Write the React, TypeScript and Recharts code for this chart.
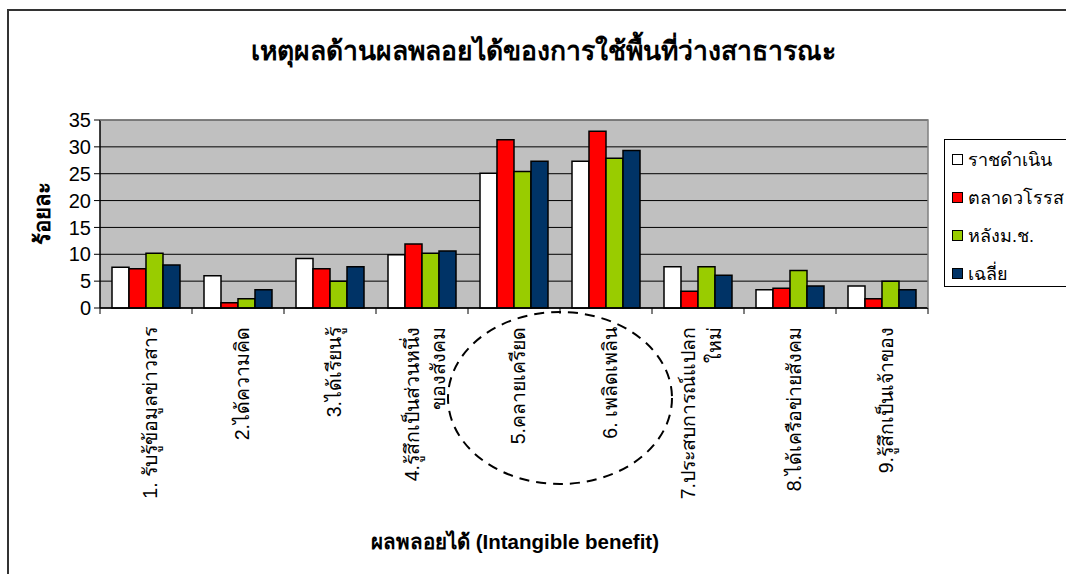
import { BarChart, Bar, XAxis, YAxis, CartesianGrid } from 'recharts';

const categories = [
  '1. รับรู้ข้อมูลข่าวสาร',
  '2.ได้ความคิด',
  '3.ได้เรียนรู้',
  '4.รู้สึกเป็นส่วนหนึ่ง\nของสังคม',
  '5.คลายเครียด',
  '6. เพลิดเพลิน',
  '7.ประสบการณ์แปลก\nใหม่',
  '8.ได้เครือข่ายสังคม',
  '9.รู้สึกเป็นเจ้าของ',
];

const seriesNames = ['ราชดำเนิน', 'ตลาดวโรรส', 'หลังม.ช.', 'เฉลี่ย'];
const seriesColors = ['#FFFFFF', '#FF0000', '#99CC00', '#003366'];

const ratchadamnoen = [7.6, 6.0, 9.2, 9.9, 25.1, 27.3, 7.7, 3.4, 4.1];
const warorot = [7.3, 1.0, 7.3, 11.9, 31.3, 32.9, 3.1, 3.7, 1.7];
const langMorChor = [10.2, 1.7, 5.0, 10.2, 25.4, 27.9, 7.7, 7.0, 5.0];
const average = [8.0, 3.4, 7.7, 10.6, 27.3, 29.3, 6.1, 4.1, 3.4];

const yTicks = [0, 5, 10, 15, 20, 25, 30, 35];

const allSeries = [ratchadamnoen, warorot, langMorChor, average];

const data = categories.map((name, i) => {
  const row: Record<string, string | number> = { name };
  seriesNames.forEach((s, k) => {
    row[s] = allSeries[k][i];
  });
  return row;
});

// layout of the picture
const W = 1066;
const H = 574;
const PLOT_LEFT = 100;
const PLOT_RIGHT = 928;
const PLOT_TOP = 120;
const PLOT_BOTTOM = 308;
const BAND = (PLOT_RIGHT - PLOT_LEFT) / categories.length;

const FONT = '"Liberation Sans", Arial, sans-serif';

// eslint-disable-next-line @typescript-eslint/no-explicit-any
function CategoryTick(props: any) {
  const { x, y, payload, index } = props;
  const lines = String(payload.value).split('\n');
  const half = BAND / 2;
  return (
    <g>
      <line x1={x - half} y1={y} x2={x - half} y2={y + 6} stroke="#000" strokeWidth={1} />
      {index === categories.length - 1 && (
        <line x1={x + half} y1={y} x2={x + half} y2={y + 6} stroke="#000" strokeWidth={1} />
      )}
      <g transform={`translate(${x},${y + 19}) rotate(-90)`}>
        <text textAnchor="end" fontSize={19.5} fill="#000" fontFamily={FONT}>
          {lines.map((l, i) => (
            <tspan key={i} x={0} y={11 - (lines.length - 1) * 14 + i * 26}>
              {l}
            </tspan>
          ))}
        </text>
      </g>
    </g>
  );
}

export default function App() {
  const ellCx = PLOT_LEFT + 5 * BAND;
  return (
    <div
      style={{
        position: 'absolute',
        left: 0,
        top: 0,
        width: W,
        height: H,
        background: '#fff',
        overflow: 'hidden',
        fontFamily: FONT,
      }}
    >
      <div
        style={{
          position: 'absolute',
          left: 7,
          top: 9,
          width: 2000,
          height: 2000,
          border: '2px solid #333',
        }}
      />
      <div
        style={{
          position: 'absolute',
          left: 0,
          top: 30,
          width: 1086,
          textAlign: 'center',
          fontSize: 26.5,
          fontWeight: 'bold',
          color: '#000',
        }}
      >
        เหตุผลด้านผลพลอยได้ของการใช้พื้นที่ว่างสาธารณะ
      </div>

      <div style={{ position: 'absolute', left: 0, top: 0 }}>
        <BarChart
          width={W}
          height={H}
          data={data}
          margin={{ top: PLOT_TOP, right: W - PLOT_RIGHT, left: PLOT_LEFT - 60, bottom: H - PLOT_BOTTOM - 230 }}
          barGap={0}
          barCategoryGap={12}
        >
          <CartesianGrid fill="#C0C0C0" fillOpacity={1} vertical={false} stroke="#000" strokeWidth={1} />
          <XAxis
            dataKey="name"
            interval={0}
            height={230}
            tickLine={false}
            tickSize={0}
            tickMargin={0}
            axisLine={{ stroke: '#000', strokeWidth: 1.5 }}
            tick={<CategoryTick />}
          />
          <YAxis
            width={60}
            domain={[0, 35]}
            ticks={yTicks}
            interval={0}
            tick={{ fill: '#000', fontSize: 20, fontFamily: FONT }}
            tickSize={6}
            tickMargin={3}
            axisLine={{ stroke: '#000', strokeWidth: 1.5 }}
            tickLine={{ stroke: '#000' }}
          />
          {seriesNames.map((s, k) => (
            <Bar
              key={s}
              dataKey={s}
              fill={seriesColors[k]}
              stroke="#000"
              strokeWidth={1.5}
              isAnimationActive={false}
            />
          ))}
        </BarChart>
      </div>

      <svg
        width={W}
        height={H}
        style={{ position: 'absolute', left: 0, top: 0, pointerEvents: 'none' }}
      >
        <path
          d={`M${PLOT_LEFT},${PLOT_TOP} H${PLOT_RIGHT} V${PLOT_BOTTOM}`}
          fill="none"
          stroke="#808080"
          strokeWidth={1.5}
        />
        <text
          transform="translate(50,213) rotate(-90)"
          textAnchor="middle"
          fontSize={22}
          fontWeight="bold"
          fontFamily={FONT}
          fill="#000"
        >
          ร้อยละ
        </text>
        <ellipse
          cx={ellCx}
          cy={398}
          rx={112}
          ry={86}
          fill="none"
          stroke="#000"
          strokeWidth={2}
          strokeDasharray="10 7"
        />
        <text
          x={515}
          y={549}
          textAnchor="middle"
          fontSize={20.5}
          fontWeight="bold"
          fontFamily={FONT}
          fill="#000"
        >
          ผลพลอยได้ (Intangible benefit)
        </text>
      </svg>

      <div
        style={{
          position: 'absolute',
          left: 944,
          top: 139,
          width: 160,
          height: 148,
          border: '1.5px solid #000',
          background: '#fff',
          boxSizing: 'border-box',
        }}
      >
        {seriesNames.map((s, k) => (
          <div
            key={s}
            style={{
              position: 'absolute',
              left: 7,
              top: 7 + k * 38,
              height: 24,
              display: 'flex',
              alignItems: 'center',
              fontSize: 18,
              whiteSpace: 'nowrap',
            }}
          >
            <span
              style={{
                display: 'inline-block',
                width: 9,
                height: 9,
                border: '1.5px solid #000',
                background: seriesColors[k],
                marginRight: 5,
              }}
            />
            {s}
          </div>
        ))}
      </div>
    </div>
  );
}
